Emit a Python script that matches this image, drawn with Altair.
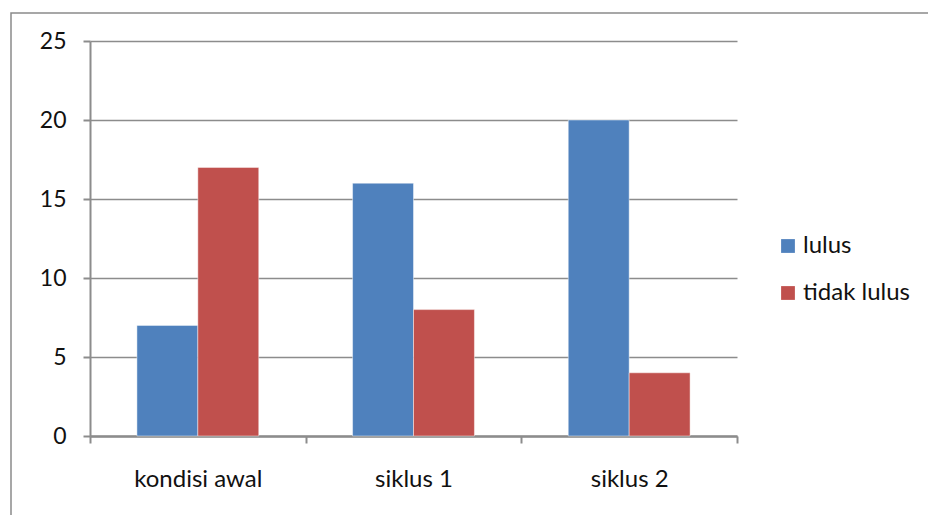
import altair as alt
import pandas as pd

# Pass counts per stage
categories = ["kondisi awal", "siklus 1", "siklus 2"]
series = ["lulus", "tidak lulus"]
lulus = [7, 16, 20]
tidak_lulus = [17, 8, 4]
y_ticks = [0, 5, 10, 15, 20, 25]

rows = []
for i, cat in enumerate(categories):
    rows.append({"tahap": cat, "status": series[0], "jumlah": lulus[i]})
    rows.append({"tahap": cat, "status": series[1], "jumlah": tidak_lulus[i]})
df = pd.DataFrame(rows)

FONT = "Lato"
GRID = "#8c8c8c"
TEXT = "#111111"

bars = alt.Chart(df).mark_bar(
    stroke="white", strokeOpacity=0.45, strokeWidth=1
).encode(
    x=alt.X(
        "tahap:N",
        sort=categories,
        title=None,
        scale=alt.Scale(paddingInner=0, paddingOuter=0),
        axis=alt.Axis(
            labelAngle=0,
            labelFont=FONT,
            labelFontSize=24,
            labelColor=TEXT,
            labelPadding=24,
            tickBand="extent",
            tickSize=7,
            tickColor=GRID,
            tickWidth=2,
            domainColor=GRID,
            domainWidth=2.5,
            grid=False,
        ),
    ),
    xOffset=alt.XOffset(
        "status:N",
        sort=series,
        scale=alt.Scale(paddingInner=0, paddingOuter=0.77),
    ),
    y=alt.Y(
        "jumlah:Q",
        title=None,
        scale=alt.Scale(domain=[0, 25], nice=False),
        axis=alt.Axis(
            values=y_ticks,
            labelFont=FONT,
            labelFontSize=23,
            labelColor=TEXT,
            labelPadding=17,
            tickSize=7,
            tickColor=GRID,
            tickWidth=2,
            domainColor=GRID,
            domainWidth=2,
            gridColor=GRID,
            gridWidth=1.5,
        ),
    ),
    color=alt.Color(
        "status:N",
        sort=series,
        title=None,
        scale=alt.Scale(domain=series, range=["#4f81bd", "#c0504d"]),
        legend=alt.Legend(
            orient="none",
            legendX=686,
            legendY=193,
            symbolType="square",
            symbolSize=190,
            symbolStrokeWidth=0,
            labelFont=FONT,
            labelFontSize=24,
            labelColor=TEXT,
            labelOffset=3,
            rowPadding=23,
        ),
    ),
)

# Outer frame of the chart area
frame = alt.Chart(pd.DataFrame({"k": [0]})).mark_rect(
    fill=None, stroke="#8a8a8a", strokeWidth=1.5, clip=False
).encode(
    x=alt.value(-79),
    x2=alt.value(900),
    y=alt.value(-28),
    y2=alt.value(520),
)

chart = (
    alt.layer(frame, bars)
    .properties(
        width=647,
        height=395,
        autosize=alt.AutoSizeParams(type="none"),
        padding={"left": 90, "top": 41, "right": 191, "bottom": 79},
        background="white",
    )
    .configure_view(stroke=None)
)

chart.save("out.html", embed_options={"renderer": "svg", "actions": False})
